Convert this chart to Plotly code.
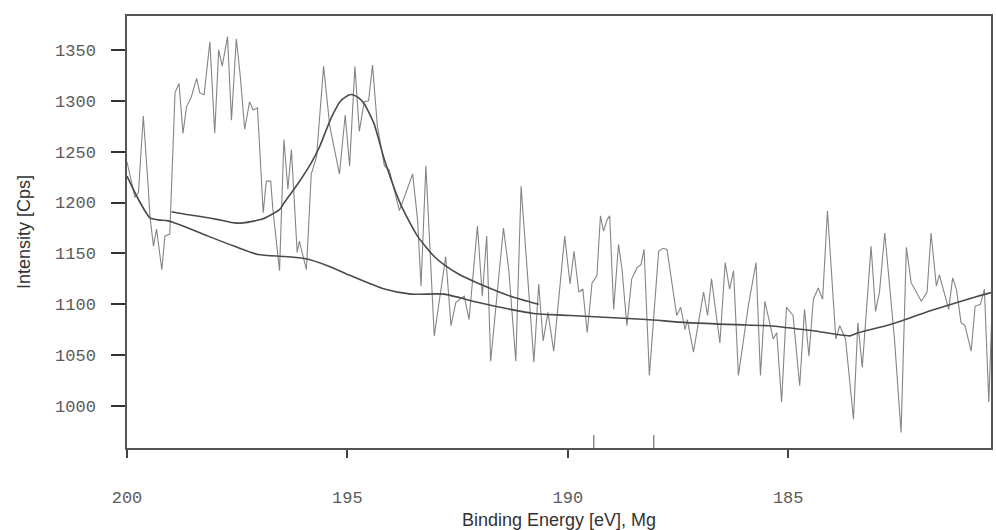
import plotly.graph_objects as go

# Measured spectrum (binding energy in eV, intensity in counts per second)
energy = [200.00, 199.82, 199.74, 199.63, 199.52, 199.48, 199.40, 199.33, 199.21, 199.14,
          199.03, 198.91, 198.82, 198.73, 198.65, 198.54, 198.42, 198.35, 198.25, 198.12,
          198.01, 197.92, 197.84, 197.72, 197.63, 197.52, 197.43, 197.33, 197.22, 197.14,
          197.04, 196.95, 196.91, 196.84, 196.74, 196.69, 196.54, 196.44, 196.35, 196.27,
          196.14, 196.09, 195.93, 195.82, 195.70, 195.54, 195.40, 195.18, 195.05, 194.95,
          194.83, 194.73, 194.62, 194.52, 194.43, 194.32, 194.16, 194.05, 193.82, 193.52,
          193.41, 193.33, 193.22, 193.03, 192.81, 192.77, 192.65, 192.54, 192.35, 192.24,
          192.05, 191.94, 191.84, 191.75, 191.46, 191.34, 191.18, 191.06, 190.77, 190.66,
          190.56, 190.45, 190.32, 190.07, 189.95, 189.86, 189.75, 189.66, 189.56, 189.45,
          189.34, 189.26, 189.19, 189.11, 189.05, 188.96, 188.85, 188.77, 188.66, 188.55,
          188.43, 188.34, 188.27, 188.15, 187.94, 187.84, 187.75, 187.53, 187.44, 187.34,
          187.29, 187.15, 186.92, 186.83, 186.74, 186.55, 186.43, 186.33, 186.24, 186.13,
          185.90, 185.73, 185.63, 185.53, 185.34, 185.26, 185.15, 185.04, 184.89, 184.74,
          184.63, 184.53, 184.43, 184.32, 184.22, 184.11, 183.92, 183.83, 183.70, 183.52,
          183.42, 183.32, 183.12, 183.02, 182.93, 182.81, 182.59, 182.44, 182.32, 182.21,
          181.98, 181.85, 181.76, 181.64, 181.57, 181.36, 181.27, 181.18, 181.08, 180.99,
          180.85, 180.76, 180.64, 180.55, 180.45, 180.36]
intensity = [1240, 1205, 1210, 1285, 1216, 1187, 1157, 1174, 1134, 1167,
             1169, 1308, 1317, 1268, 1294, 1304, 1322, 1308, 1306, 1358,
             1268, 1350, 1334, 1363, 1281, 1361, 1324, 1272, 1299, 1291,
             1293, 1223, 1190, 1221, 1221, 1193, 1133, 1262, 1213, 1252,
             1151, 1162, 1134, 1228, 1245, 1334, 1275, 1228, 1286, 1236,
             1334, 1270, 1299, 1300, 1335, 1275, 1236, 1232, 1192, 1228,
             1184, 1118, 1236, 1069, 1138, 1147, 1079, 1102, 1108, 1085,
             1177, 1108, 1167, 1044, 1175, 1134, 1044, 1216, 1043, 1120,
             1064, 1092, 1054, 1167, 1120, 1152, 1112, 1115, 1072, 1121,
             1128, 1187, 1172, 1183, 1187, 1095, 1159, 1134, 1079, 1125,
             1136, 1139, 1154, 1030, 1152, 1155, 1154, 1089, 1097, 1075,
             1085, 1053, 1112, 1089, 1125, 1062, 1141, 1115, 1133, 1030,
             1100, 1141, 1030, 1103, 1066, 1072, 1004, 1097, 1089, 1020,
             1095, 1049, 1105, 1116, 1105, 1192, 1066, 1079, 1066, 987,
             1082, 1038, 1157, 1093, 1112, 1170, 1066, 974, 1156, 1121,
             1103, 1112, 1170, 1118, 1129, 1095, 1126, 1114, 1082, 1079,
             1054, 1098, 1100, 1115, 1004, 1115]

# Fitted component (peak on top of background)
fit_energy = [198.99, 198.60, 198.30, 197.90, 197.56, 197.37, 197.10, 196.91, 196.54, 196.43,
              196.10, 195.82, 195.63, 195.37, 195.15, 194.95, 194.88, 194.75, 194.62, 194.40,
              194.16, 193.79, 193.41, 193.03, 192.81, 192.45, 192.05, 191.30, 190.66]
fit_intensity = [1191, 1188, 1186, 1183, 1180, 1180, 1182, 1184, 1193, 1200,
                 1220, 1239, 1255, 1283, 1300, 1306, 1306, 1303, 1297, 1278,
                 1242, 1198, 1167, 1147, 1139, 1129, 1121, 1108, 1100]

# Background
bg_energy = [200.00, 199.74, 199.48, 199.29, 199.07, 198.73, 198.16, 197.56, 197.03, 196.43,
             195.97, 195.45, 194.92, 194.16, 193.56, 192.81, 192.05, 191.30, 190.77, 189.94,
             189.07, 188.21, 187.30, 186.17, 185.45, 184.43, 183.60, 183.42, 182.70, 182.21,
             181.83, 181.45, 180.70, 180.36]
bg_intensity = [1226, 1203, 1185, 1183, 1182, 1177, 1167, 1157, 1149, 1147,
                1145, 1138, 1128, 1115, 1110, 1110, 1102, 1095, 1091, 1089,
                1087, 1085, 1082, 1080, 1079, 1074, 1069, 1072, 1080, 1087,
                1093, 1098, 1108, 1112]

x_ticks = [200, 195, 190, 185]
y_ticks = [1000, 1050, 1100, 1150, 1200, 1250, 1300, 1350]

fig = go.Figure()
fig.add_trace(go.Scatter(x=energy, y=intensity, mode="lines",
                         line=dict(color="#858585", width=1.1), showlegend=False))
fig.add_trace(go.Scatter(x=bg_energy, y=bg_intensity, mode="lines",
                         line=dict(color="#4a4a4a", width=1.6, shape="spline", smoothing=0.6),
                         showlegend=False))
fig.add_trace(go.Scatter(x=fit_energy, y=fit_intensity, mode="lines",
                         line=dict(color="#4a4a4a", width=1.6, shape="spline", smoothing=0.6),
                         showlegend=False))

# small marks standing on the bottom axis
for xm in [189.41, 188.05]:
    fig.add_shape(type="line", x0=xm, x1=xm, xref="x", y0=0, y1=0.03, yref="y domain",
                  line=dict(color="#555555", width=1))

tick_font = dict(family="Liberation Mono, Courier New, monospace", size=17, color="#5a5a5a")
title_font = dict(family="Liberation Sans, Arial, sans-serif", size=18, color="#333333")

fig.update_layout(
    width=996, height=530,
    margin=dict(l=127, r=3, t=16, b=81),
    paper_bgcolor="white", plot_bgcolor="white",
    xaxis=dict(range=[200, 180.4], tickvals=x_ticks, ticktext=[str(v) for v in x_ticks],
               ticks="outside", ticklen=8, tickcolor="#444444", tickwidth=1.5,
               showline=True, linecolor="#555555", linewidth=1.5, mirror=True,
               showgrid=False, zeroline=False, tickfont=tick_font, ticklabelstandoff=25,
               title=dict(text="Binding Energy [eV], Mg", font=title_font, standoff=6)),
    yaxis=dict(range=[958.8, 1383.3], tickvals=y_ticks, ticktext=[str(v) for v in y_ticks],
               ticks="outside", ticklen=14, tickcolor="#333333", tickwidth=2,
               showline=True, linecolor="#555555", linewidth=1.5, mirror=True,
               showgrid=False, zeroline=False, tickfont=tick_font, ticklabelstandoff=12,
               title=dict(text="Intensity [Cps]", font=title_font, standoff=20)),
)

fig.write_html("out.html")
